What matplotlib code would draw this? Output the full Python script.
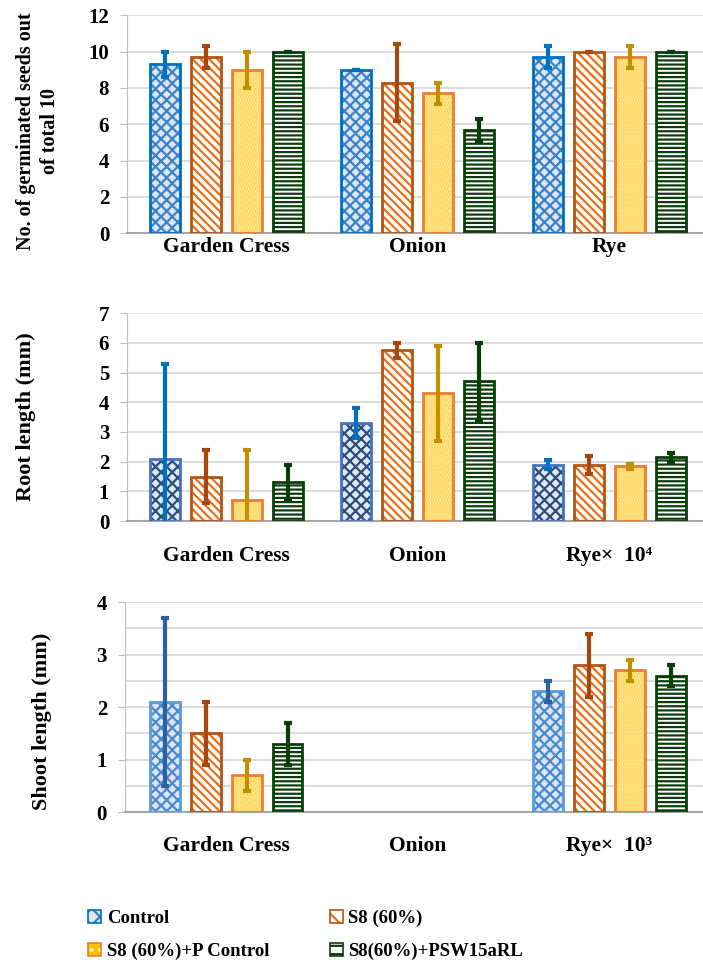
import numpy as np
import matplotlib
matplotlib.use("Agg")
import matplotlib.pyplot as plt
from matplotlib.patches import Patch

plt.rcParams['font.family'] = ['Liberation Serif', 'DejaVu Serif']
plt.rcParams['font.weight'] = 'bold'
plt.rcParams['hatch.linewidth'] = 1.6

crops = ["Garden Cress", "Onion", "Rye"]
series = ["Control", "S8 (60%)", "S8 (60%)+P Control", "S8(60%)+PSW15aRL"]

# germination (out of 10)
germ = [[9.3, 9.0, 9.7],
        [9.7, 8.3, 10.0],
        [9.0, 7.7, 9.7],
        [10.0, 5.7, 10.0]]
germ_err = [[0.7, 0.0, 0.6],
            [0.6, 2.1, 0.0],
            [1.0, 0.6, 0.6],
            [0.0, 0.6, 0.0]]

# root length (mm), rye x 10^4
root = [[2.1, 3.3, 1.9],
        [1.5, 5.75, 1.9],
        [0.7, 4.3, 1.85],
        [1.3, 4.7, 2.15]]
root_err = [[3.2, 0.5, 0.15],
            [0.9, 0.25, 0.3],
            [1.7, 1.6, 0.08],
            [0.6, 1.3, 0.15]]

# shoot length (mm), rye x 10^3, onion not measured
shoot = [[2.1, np.nan, 2.3],
         [1.5, np.nan, 2.8],
         [0.7, np.nan, 2.7],
         [1.3, np.nan, 2.6]]
shoot_err = [[1.6, np.nan, 0.2],
             [0.6, np.nan, 0.6],
             [0.3, np.nan, 0.2],
             [0.4, np.nan, 0.2]]

# style per series: fill, hatch, hatch colour, edge colour, error colour
styles = [
    dict(fc='#dce6f4', hatch='xxx', hc='#3c82c8', ec='#0070c0', erc='#0070c0'),
    dict(fc='white', hatch='\\\\\\\\', hc='#e8701a', ec='#b35412', erc='#a5480e'),
    dict(fc='#ffc000', hatch='......', hc='#fff6d5', ec='#ed7d31', erc='#bf9000'),
    dict(fc='white', hatch='----', hc='#0b3d0b', ec='#0b3d0b', erc='#0b3d0b'),
]
# the control bars use other blues in the lower two panels
control_alt = [None,
               dict(fc='#deebf7', hatch='xxx', hc='#2f4b7c', ec='#4472c4', erc='#0070c0'),
               dict(fc='#dce6f4', hatch='xxx', hc='#4a8ad0', ec='#5b9bd5', erc='#2e5f9e')]

fig = plt.figure(figsize=(7.03, 9.65), dpi=100)
ax1 = fig.add_axes([0.181, 0.7585, 0.819, 0.2255])
ax2 = fig.add_axes([0.181, 0.460, 0.819, 0.2155])
ax3 = fig.add_axes([0.178, 0.1585, 0.822, 0.2175])

x = np.arange(len(crops))
pitch = 0.214
width = 0.156

panels = [
    (ax1, germ, germ_err, 12, 2, None, "No. of germinated seeds out\nof total 10",
     ["Garden Cress", "Onion", "Rye"], 3, (-0.116, 0.47), 14.5, -0.517),
    (ax2, root, root_err, 7, 1, None, "Root length (mm)",
     ["Garden Cress", "Onion", "Rye\u00d7  10\u2074"], 18, (-0.158, 0.5), 16, -0.517),
    (ax3, shoot, shoot_err, 4, 1, 0.5, "Shoot length (mm)",
     ["Garden Cress", "Onion", "Rye\u00d7  10\u00b3"], 17, (-0.126, 0.43), 16, -0.527),
]

handles = []
for p, (ax, vals, errs, ymax, step, minor, ylab, xlabels, pad, lc, lsize, x0) in enumerate(panels):
    for i, st in enumerate(styles):
        if i == 0 and control_alt[p]:
            st = control_alt[p]
        pos = x + (i - 1.5) * pitch
        ax.bar(pos, vals[i], width, color=st['fc'], hatch=st['hatch'],
               edgecolor=st['hc'], linewidth=0, zorder=2)
        ax.bar(pos, vals[i], width, fill=False, edgecolor=st['ec'],
               linewidth=2, zorder=3)
        ax.errorbar(pos, vals[i], yerr=errs[i], fmt='none', ecolor=st['erc'],
                    elinewidth=3, capsize=3.2, capthick=3, zorder=4)
        if p == 0:
            handles.append((Patch(facecolor=st['fc'], hatch=st['hatch'][:2], edgecolor=st['hc'], linewidth=0),
                            Patch(fill=False, edgecolor=st['ec'], linewidth=1.2)))
    ax.set_xlim(x0, 2.49)
    ax.set_ylim(0, ymax)
    ax.set_yticks(np.arange(0, ymax + 0.01, step))
    if minor:
        ax.set_yticks(np.arange(0, ymax + 0.01, minor), minor=True)
        ax.grid(axis='y', which='minor', color='#d9d9d9', linewidth=1.3, zorder=0)
    ax.grid(axis='y', which='major', color='#d9d9d9', linewidth=1.3, zorder=0)
    ax.set_axisbelow(True)
    ax.set_xticks(x)
    ax.set_xticklabels(xlabels, fontsize=15.5, fontweight='bold')
    ax.tick_params(axis='x', length=0, pad=pad)
    ax.tick_params(axis='y', which='major', length=5, color='#bfbfbf', labelsize=15, pad=8)
    ax.tick_params(axis='y', which='minor', length=0)
    for lab in ax.get_yticklabels():
        lab.set_fontweight('bold')
    ax.spines['top'].set_visible(False)
    ax.spines['right'].set_visible(False)
    ax.spines['left'].set_color('#bfbfbf')
    ax.spines['bottom'].set_color('#a6a6a6')
    ax.spines['bottom'].set_linewidth(1.5)
    ax.set_ylabel(ylab, fontsize=lsize, fontweight='bold', linespacing=1.3)
    ax.yaxis.set_label_coords(*lc)

order = [0, 2, 1, 3]
fig.legend([handles[k] for k in order], [series[k] for k in order], ncol=2,
           loc='center', bbox_to_anchor=(0.435, 0.031), frameon=False,
           handlelength=0.7, handleheight=0.7, handletextpad=0.3,
           columnspacing=3.2, labelspacing=0.85, prop={'weight': 'bold', 'size': 13.5})

plt.savefig("out.png", dpi=100)
